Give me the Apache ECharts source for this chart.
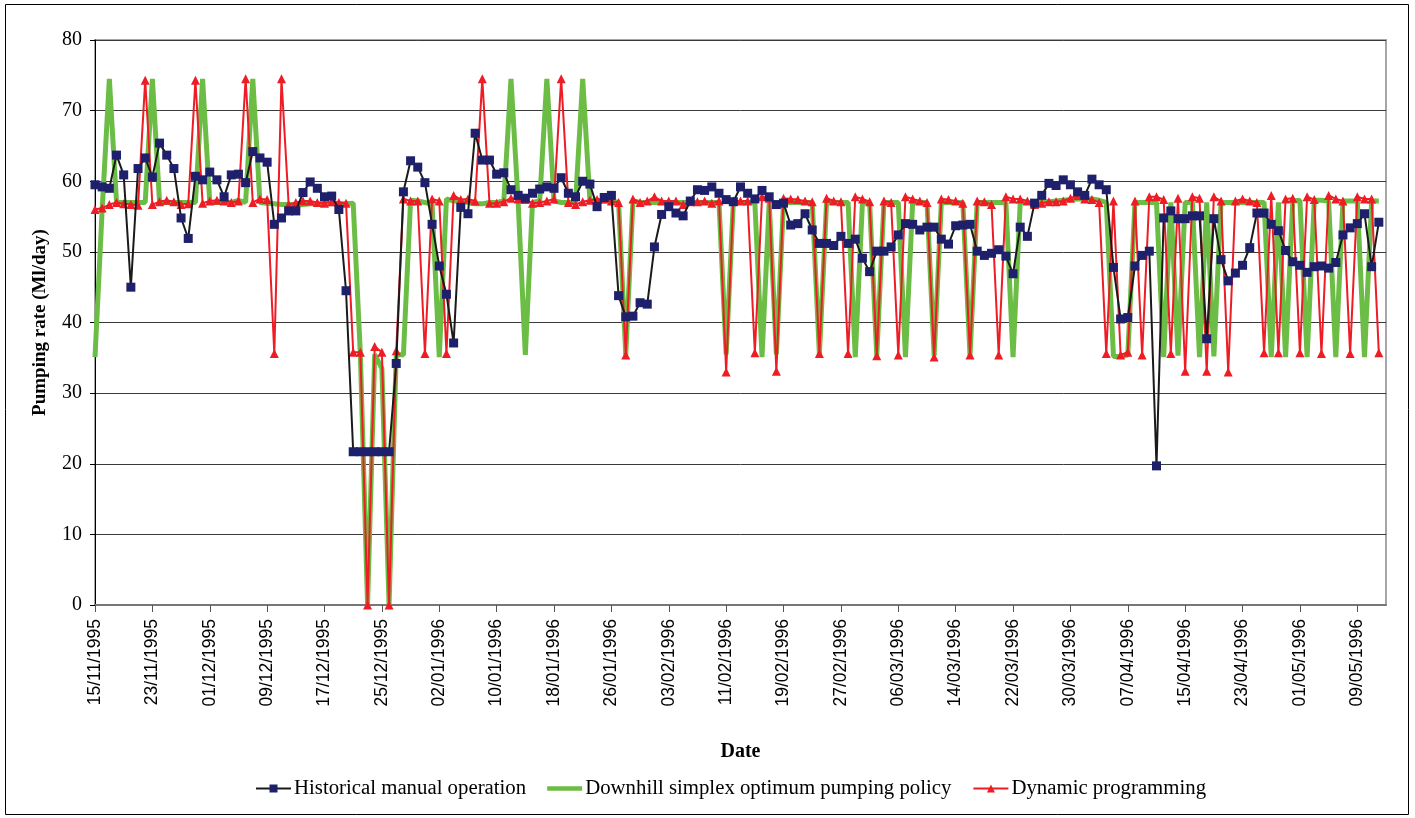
<!DOCTYPE html>
<html>
<head>
<meta charset="utf-8">
<script src="https://cdn.jsdelivr.net/npm/echarts@6/dist/echarts.min.js"></script>
<style>
html,body{margin:0;padding:0;background:#fff;}
#chart{width:1415px;height:818px;}
</style>
</head>
<body>
<div id="chart"></div>
<script>
// ---- Data (daily values from 15/11/1995) ----
const startDate = [1995, 11, 15];
const nDays = 181; // axis spans 181 daily slots
const yTicks = [0, 10, 20, 30, 40, 50, 60, 70, 80];

const historical = [
59.5,59.2,59.0,63.7,60.9,45.0,61.8,63.3,60.6,65.4,
63.7,61.8,54.8,51.9,60.7,60.2,61.3,60.2,57.8,60.9,
61.0,59.8,64.2,63.3,62.7,53.9,54.8,55.8,55.8,58.4,
59.9,59.0,57.8,57.9,56.0,44.5,21.7,21.7,21.7,21.7,
21.7,21.7,34.2,58.5,62.9,62.0,59.8,53.9,48.0,44.0,
37.1,56.3,55.4,66.8,63.0,63.0,61.0,61.2,58.8,58.0,
57.6,58.3,58.9,59.2,59.0,60.5,58.3,57.8,60.0,59.6,
56.4,57.7,58.0,43.8,40.8,40.9,42.8,42.6,50.7,55.3,
56.4,55.5,55.1,57.2,58.8,58.7,59.2,58.3,57.4,57.1,
59.2,58.3,57.5,58.7,57.8,56.7,56.9,53.8,54.0,55.4,
53.1,51.2,51.2,50.9,52.2,51.2,51.8,49.1,47.2,50.1,
50.1,50.7,52.4,54.0,53.9,53.1,53.5,53.5,51.8,51.1,
53.7,53.8,53.9,50.1,49.5,49.8,50.3,49.4,46.9,53.5,
52.2,56.9,58.0,59.7,59.4,60.2,59.5,58.5,58.0,60.3,
59.5,58.8,47.8,40.5,40.7,48.0,49.5,50.1,19.7,54.8,
55.8,54.7,54.7,55.1,55.1,37.7,54.7,48.9,45.9,47.0,
48.1,50.6,55.5,55.5,53.9,53.0,50.2,48.6,48.1,47.1,
47.9,48.0,47.7,48.5,52.4,53.4,54.0,55.4,47.9,54.2
];

const simplex = [
35.1,56.0,74.5,57.0,57.0,57.0,57.0,57.0,74.5,57.0,
57.0,57.0,57.0,57.0,57.0,74.5,57.0,57.0,57.0,57.0,
57.3,57.0,74.5,57.0,56.9,56.8,56.7,56.7,56.6,56.7,
56.8,56.8,56.8,56.8,56.8,56.8,56.9,35.5,0.0,35.5,
33.5,0.0,35.5,35.4,57.3,57.2,57.0,56.7,35.1,57.5,
57.2,57.2,57.0,56.8,56.8,57.0,57.0,57.2,74.5,57.0,
35.4,57.0,57.2,74.5,57.2,57.0,57.0,57.0,74.5,57.3,
57.2,57.2,57.2,57.0,35.4,57.2,57.0,57.0,57.0,57.0,
57.0,57.0,57.0,57.0,57.0,57.0,57.0,57.0,35.5,57.0,
57.0,57.0,57.0,35.1,57.0,35.5,57.0,57.0,57.0,57.0,
57.0,35.5,57.0,57.0,57.0,57.0,35.1,57.0,57.0,35.3,
57.0,57.0,57.0,35.1,57.0,57.0,57.0,35.3,57.0,57.0,
57.0,57.0,35.3,57.0,57.0,57.0,57.0,57.0,35.1,57.0,
57.0,57.0,57.1,57.1,57.2,57.3,57.4,57.5,57.5,57.5,
57.3,57.0,35.2,35.2,35.4,57.0,57.0,57.0,57.0,35.1,
57.0,35.3,57.0,57.0,35.1,57.0,35.2,57.0,57.0,57.0,
57.0,57.0,57.0,57.0,35.1,57.0,35.1,57.2,57.3,35.1,
57.3,57.3,57.2,35.1,57.2,57.2,57.2,35.1,57.2,57.2
];

const dynamicProg = [
56.0,56.2,56.7,57.0,56.8,56.7,56.6,74.3,56.7,57.1,
57.3,57.1,56.7,56.8,74.3,56.9,57.2,57.3,57.2,57.0,
57.2,74.5,57.0,57.5,57.4,35.6,74.5,56.7,57.0,57.2,
57.2,57.0,56.9,57.1,57.0,56.9,35.8,35.8,0.0,36.6,
35.8,0.0,36.0,57.5,57.2,57.2,35.6,57.5,57.2,35.6,
58.0,57.4,57.5,57.2,74.5,56.9,56.9,57.1,57.6,57.5,
57.4,56.9,57.0,57.2,57.5,74.5,57.0,56.7,57.1,57.3,
57.4,57.5,57.2,57.0,35.4,57.5,57.0,57.2,57.8,57.2,
57.2,57.2,56.7,57.1,57.1,57.2,56.9,57.2,33.0,57.2,
57.2,57.2,35.7,57.8,57.6,33.1,57.6,57.5,57.4,57.2,
57.1,35.6,57.6,57.2,57.1,35.6,57.8,57.5,57.1,35.3,
57.2,57.0,35.4,57.8,57.5,57.2,57.0,35.1,57.5,57.4,
57.2,56.9,35.4,57.2,57.1,56.7,35.4,57.8,57.5,57.5,
57.2,56.7,56.9,57.1,57.1,57.2,57.6,58.0,57.5,57.4,
57.0,35.6,57.2,35.4,35.8,57.2,35.4,57.8,57.8,57.4,
35.6,57.6,33.1,57.8,57.6,33.1,57.8,57.2,33.0,57.2,
57.5,57.2,57.0,35.7,58.0,35.7,57.5,57.6,35.7,57.8,
57.4,35.6,58.0,57.5,57.2,35.6,57.8,57.5,57.5,35.7
];

const seriesNames = ['Historical manual operation', 'Downhill simplex optimum pumping policy', 'Dynamic programming'];

// ---- Build date categories ----
function pad(n){ return (n < 10 ? '0' : '') + n; }
const categories = [];
(function(){
  const d = new Date(Date.UTC(startDate[0], startDate[1]-1, startDate[2]));
  for (let i = 0; i < nDays; i++) {
    categories.push(pad(d.getUTCDate()) + '/' + pad(d.getUTCMonth()+1) + '/' + d.getUTCFullYear());
    d.setUTCDate(d.getUTCDate() + 1);
  }
})();

const chart = echarts.init(document.getElementById('chart'));
const serif = '"Liberation Serif", "DejaVu Serif", serif';
const sans = '"Liberation Sans", Arial, sans-serif';

chart.setOption({
  animation: false,
  backgroundColor: '#fff',
  graphic: [{
    type: 'rect', silent: true, z: -1,
    shape: {x: 5.5, y: 4.5, width: 1403, height: 810},
    style: {fill: 'none', stroke: '#000', lineWidth: 1}
  }],
  grid: {
    left: 95, top: 40, width: 1291, height: 565,
    show: true, borderColor: '#a6a6a6', borderWidth: 2, backgroundColor: 'transparent'
  },
  legend: {
    data: [
      {name: seriesNames[0]},
      {name: seriesNames[1], icon: 'path://M0,0 L40,0 L40,5 L0,5 Z', itemStyle: {color: '#6cbd45'}},
      {name: seriesNames[2]}
    ],
    left: 250, top: 773,
    itemWidth: 35, itemHeight: 10, itemGap: 21,
    textStyle: {fontFamily: serif, fontSize: 20.8, color: '#000', padding: [0,0,0,-2]}
  },
  xAxis: {
    type: 'category',
    data: categories,
    boundaryGap: false,
    name: 'Date',
    nameLocation: 'middle',
    nameGap: 137,
    nameTextStyle: {fontFamily: serif, fontSize: 20, fontWeight: 'bold', color: '#000'},
    axisLine: {lineStyle: {color: '#777', width: 2}},
    axisTick: {show: true, interval: 7, length: 7, inside: false, lineStyle: {color: '#555'}},
    axisLabel: {
      interval: 7, rotate: 90, margin: 14,
      fontFamily: sans, fontSize: 17.5, color: '#000'
    },
    splitLine: {show: false}
  },
  yAxis: {
    type: 'value',
    min: 0, max: 80, interval: 10,
    name: 'Pumping rate (Ml/day)',
    nameLocation: 'middle',
    nameGap: 45,
    nameRotate: 90,
    nameTextStyle: {fontFamily: serif, fontSize: 19, fontWeight: 'bold', color: '#000'},
    axisLine: {show: true, lineStyle: {color: '#000', width: 1}},
    axisTick: {show: true, length: 5, lineStyle: {color: '#000'}},
    axisLabel: {fontFamily: serif, fontSize: 20, color: '#000', margin: 13,
      formatter: function(v){ return yTicks.indexOf(v) >= 0 ? String(v) : ''; }},
    splitLine: {show: true, lineStyle: {color: '#3a3a3a', width: 1}}
  },
  series: [
    {
      name: seriesNames[1], type: 'line', data: simplex,
      symbol: 'none',
      lineStyle: {color: '#6cbd45', width: 5},
      itemStyle: {color: '#6cbd45'},
      z: 2
    },
    {
      name: seriesNames[2], type: 'line', data: dynamicProg,
      symbol: 'triangle', symbolSize: 9, showAllSymbol: true,
      lineStyle: {color: '#ee1c25', width: 2},
      itemStyle: {color: '#ee1c25'},
      z: 3
    },
    {
      name: seriesNames[0], type: 'line', data: historical,
      symbol: 'rect', symbolSize: 9, showAllSymbol: true,
      lineStyle: {color: '#1a1a1a', width: 2},
      itemStyle: {color: '#1f206b'},
      z: 4
    }
  ]
});
</script>
</body>
</html>
